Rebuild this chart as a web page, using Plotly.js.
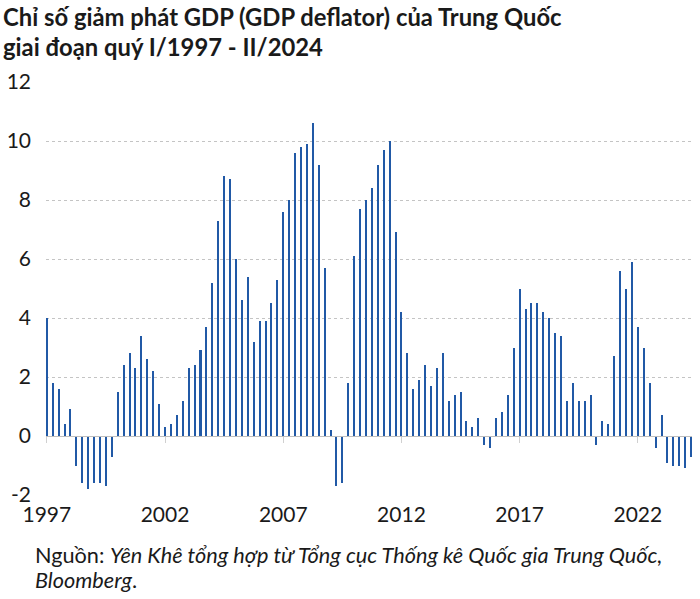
<!DOCTYPE html>
<html>
<head>
<meta charset="utf-8">
<script src="https://cdn.plot.ly/plotly-3.0.1.min.js"></script>
<style>
html,body{margin:0;padding:0;background:#fff;}
#chart{width:700px;height:599px;}
</style>
</head>
<body>
<div id="chart"></div>
<script>
// Quarterly GDP deflator, China, Q1/1997 - Q2/2024 (% y/y)
const startYear = 1997;
const deflator = [
  4.0, 1.8, 1.6, 0.4,      // 1997
  0.9, -1.0, -1.6, -1.8,   // 1998
  -1.6, -1.6, -1.7, -0.7,  // 1999
  1.5, 2.4, 2.8, 2.3,      // 2000
  3.4, 2.6, 2.2, 1.1,      // 2001
  0.3, 0.4, 0.7, 1.2,      // 2002
  2.3, 2.4, 2.9, 3.7,      // 2003
  5.2, 7.3, 8.8, 8.7,      // 2004
  6.0, 4.6, 5.4, 3.2,      // 2005
  3.9, 3.9, 4.5, 5.3,      // 2006
  7.6, 8.0, 9.6, 9.8,      // 2007
  9.9, 10.6, 9.2, 5.7,     // 2008
  0.2, -1.7, -1.6, 1.8,    // 2009
  6.1, 7.7, 8.0, 8.4,      // 2010
  9.2, 9.7, 10.0, 6.9,     // 2011
  4.2, 2.8, 1.6, 1.9,      // 2012
  2.4, 1.7, 2.3, 2.8,      // 2013
  1.2, 1.4, 1.5, 0.5,      // 2014
  0.3, 0.6, -0.3, -0.4,    // 2015
  0.6, 0.8, 1.4, 3.0,      // 2016
  5.0, 4.3, 4.5, 4.5,      // 2017
  4.2, 4.0, 3.5, 3.4,      // 2018
  1.2, 1.8, 1.2, 1.2,      // 2019
  1.4, -0.3, 0.5, 0.4,     // 2020
  2.7, 5.6, 5.0, 5.9,      // 2021
  3.7, 3.0, 1.8, -0.4,     // 2022
  0.7, -0.9, -1.0, -1.0,   // 2023
  -1.1, -0.7               // 2024
];
const tickYears = [1997, 2002, 2007, 2012, 2017, 2022];
const tickLabels = ["1997", "2002", "2007", "2012", "2017", "2022"];
const yTicks = [-2, 0, 2, 4, 6, 8, 10, 12];
const titleLines = [
  "<b>Chỉ số giảm phát GDP (GDP deflator) của Trung Quốc</b>",
  "<b>giai đoạn quý I/1997 - II/2024</b>"
];
const sourceLines = [
  "Nguồn: <i>Yên Khê tổng hợp từ Tổng cục Thống kê Quốc gia Trung Quốc,</i>",
  "<i>Bloomberg</i>."
];

const quarterX = deflator.map((v, i) => startYear + i / 4);

const FONT = "Lato, 'Open Sans', sans-serif";
const xRange = [1996.965, 2024.29];
const PW = 646, PH = 413.5, ML = 46, MT = 82;
const px2x = p => (p - ML) / PW;
const py2y = p => 1 - (p - MT) / PH;

const traces = [{
  type: "bar",
  x: quarterX,
  y: deflator,
  width: 0.085,
  marker: {color: "#2159a6", line: {width: 0}},
  hoverinfo: "x+y",
  showlegend: false
}];

function textLine(text, xp, yp, size) {
  return {
    text: text, xref: "paper", yref: "paper",
    x: px2x(xp), xanchor: "left",
    y: py2y(yp), yanchor: "middle",
    showarrow: false, align: "left",
    font: {family: FONT, size: size, color: "#1a1a1a"}
  };
}

const layout = {
  width: 700,
  height: 599,
  paper_bgcolor: "#ffffff",
  plot_bgcolor: "#ffffff",
  margin: {l: ML, r: 8, t: MT, b: 103.5},
  font: {family: FONT, color: "#1a1a1a", size: 21},
  bargap: 0,
  xaxis: {
    range: xRange,
    tickvals: tickYears,
    ticktext: tickLabels,
    showgrid: false,
    zeroline: false,
    showline: false,
    ticks: "",
    ticklabelstandoff: 5,
    tickfont: {family: FONT, size: 21, color: "#1a1a1a"},
    fixedrange: true
  },
  xaxis2: {
    overlaying: "x",
    matches: "x",
    anchor: "free",
    position: 2 / 14,
    tickvals: tickYears,
    showticklabels: false,
    showgrid: false,
    zeroline: false,
    showline: true,
    linecolor: "#bfbfbf",
    linewidth: 1,
    ticks: "outside",
    ticklen: 6,
    tickcolor: "#d0d0d0",
    tickwidth: 1
  },
  yaxis: {
    range: [-2, 12],
    tickvals: yTicks,
    ticktext: yTicks.map(String),
    showgrid: true,
    gridcolor: "#c4c4c4",
    griddash: "dot",
    gridwidth: 1,
    zeroline: false,
    showline: false,
    ticks: "",
    ticklabelstandoff: 14,
    tickfont: {family: FONT, size: 21, color: "#1a1a1a"},
    fixedrange: true
  },
  annotations: [
    textLine(titleLines[0], 1, 17, 23.8),
    textLine(titleLines[1], 1, 46.5, 23.8),
    textLine(sourceLines[0], 33, 556, 21.7),
    textLine(sourceLines[1], 33, 581, 21.7)
  ]
};

// dummy trace to activate xaxis2 (zero line with year ticks)
traces.push({type: "scatter", x: [xRange[0]], y: [0], xaxis: "x2", yaxis: "y", mode: "markers", marker: {opacity: 0}, hoverinfo: "skip", showlegend: false});

Plotly.newPlot("chart", traces, layout, {displayModeBar: false, staticPlot: true});
</script>
</body>
</html>
